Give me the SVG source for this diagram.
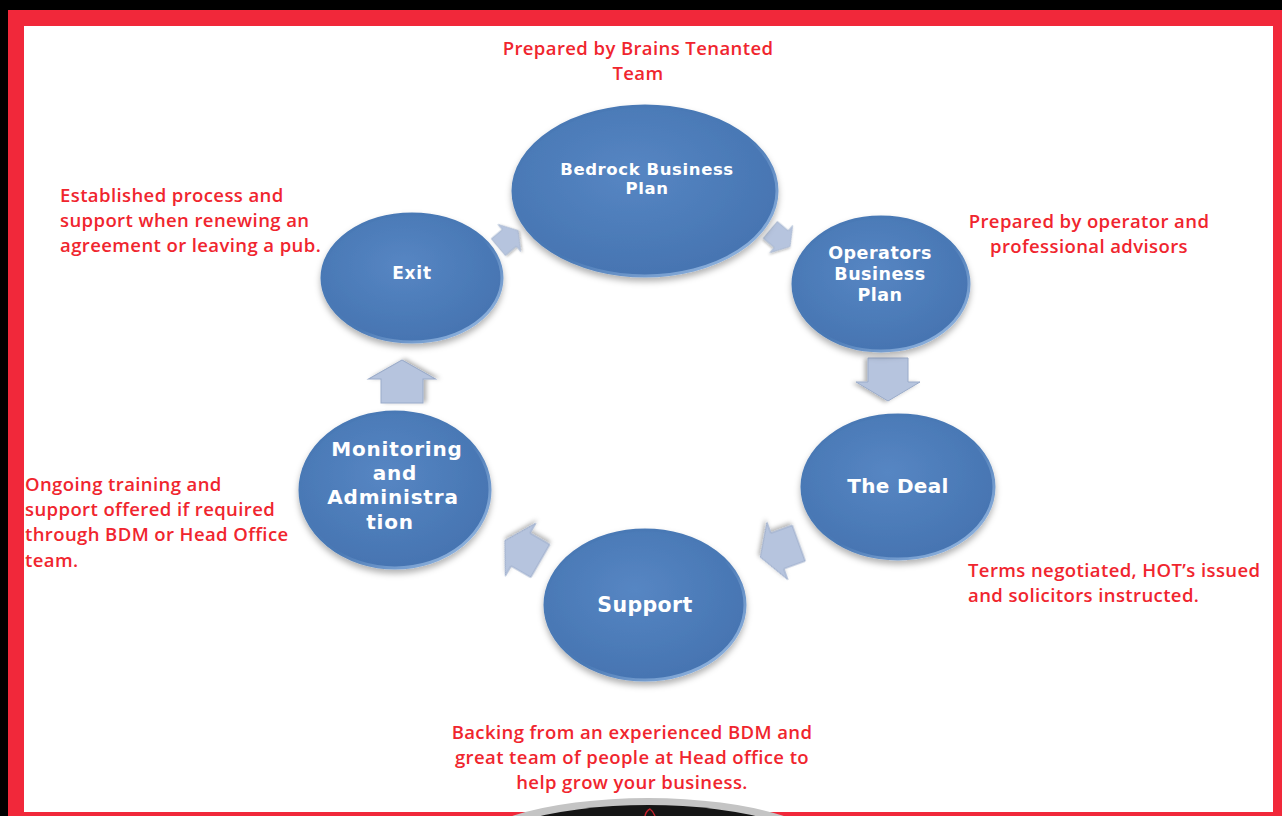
<svg xmlns="http://www.w3.org/2000/svg" width="1282" height="816" viewBox="0 0 1282 816">
<defs>
<style>
.note{font-family:"Open Sans","Liberation Sans",sans-serif;font-weight:600;font-size:18.5px;letter-spacing:0.4px;fill:#f0252e}
.lbl{font-family:"DejaVu Sans","Liberation Sans",sans-serif;font-weight:bold;fill:#ffffff;text-anchor:middle}
.disc{fill:url(#discFill);stroke:url(#rim);stroke-width:3;filter:url(#sh)}
.arr{fill:#b6c4de;stroke:#9aabc9;stroke-width:1;filter:url(#ash)}
</style>
<radialGradient id="discFill" cx="0.45" cy="0.4" r="0.65">
<stop offset="0" stop-color="#5686c3"/>
<stop offset="1" stop-color="#4573b0"/>
</radialGradient>
<linearGradient id="rim" x1="0" y1="0" x2="1" y2="1">
<stop offset="0" stop-color="#4a79b5"/>
<stop offset="0.55" stop-color="#4a79b5"/>
<stop offset="1" stop-color="#a6c6ec"/>
</linearGradient>
<filter id="sh" x="-20%" y="-20%" width="140%" height="150%">
<feDropShadow dx="0" dy="4" stdDeviation="3" flood-color="#000" flood-opacity="0.3"/>
</filter>
<filter id="ash" x="-30%" y="-30%" width="160%" height="160%">
<feDropShadow dx="1" dy="3" stdDeviation="2" flood-color="#000" flood-opacity="0.3"/>
</filter>
<path id="blk" d="M-21,-20 H3 V-32 L22,0 L3,32 V20 H-21 Z"/>
</defs>

<rect x="0" y="0" width="1282" height="816" fill="#000"/>
<rect x="8" y="10" width="1274" height="806" fill="#f1283a"/>
<rect x="24" y="26" width="1249" height="786" fill="#ffffff"/>

<g id="connectors">
<use href="#blk" class="arr" transform="translate(508,239) rotate(-40) scale(0.6,0.55)"/>
<use href="#blk" class="arr" transform="translate(780,238) rotate(40) scale(0.6,0.55)"/>
<use href="#blk" class="arr" transform="translate(888,379) rotate(90)"/>
<use href="#blk" class="arr" transform="translate(780,550) rotate(160) scale(0.95)"/>
<use href="#blk" class="arr" transform="translate(523,551) rotate(-150) scale(0.95)"/>
<use href="#blk" class="arr" transform="translate(402,382) rotate(-90) scale(1,1.05)"/>
</g>

<g id="bedrock">
<ellipse class="disc" cx="645" cy="191" rx="132" ry="85"/>
<text class="lbl" font-size="16.5" letter-spacing="0.6" x="647" y="175">Bedrock Business</text>
<text class="lbl" font-size="16.5" letter-spacing="0.6" x="647" y="194">Plan</text>
</g>
<g id="operators">
<ellipse class="disc" cx="881" cy="284" rx="88" ry="67"/>
<text class="lbl" font-size="17.5" letter-spacing="0.5" x="880" y="259">Operators</text>
<text class="lbl" font-size="17.5" letter-spacing="0.5" x="880" y="280">Business</text>
<text class="lbl" font-size="17.5" letter-spacing="0.5" x="880" y="301">Plan</text>
</g>
<g id="deal">
<ellipse class="disc" cx="898" cy="487" rx="96" ry="72"/>
<text class="lbl" font-size="20" letter-spacing="0.3" x="898" y="493">The Deal</text>
</g>
<g id="support">
<ellipse class="disc" cx="645" cy="605" rx="100" ry="75"/>
<text class="lbl" font-size="20.5" letter-spacing="0.4" x="645" y="612">Support</text>
</g>
<g id="monitoring">
<ellipse class="disc" cx="395" cy="490" rx="95" ry="78"/>
<text class="lbl" font-size="20" letter-spacing="0.8" x="397" y="456">Monitoring</text>
<text class="lbl" font-size="20" letter-spacing="0.8" x="395" y="480">and</text>
<text class="lbl" font-size="20" letter-spacing="0.8" x="393" y="504">Administra</text>
<text class="lbl" font-size="20" letter-spacing="0.8" x="390" y="529">tion</text>
</g>
<g id="exit">
<ellipse class="disc" cx="412" cy="278" rx="90" ry="64"/>
<text class="lbl" font-size="17" letter-spacing="0.8" x="412" y="279">Exit</text>
</g>

<g id="notes">
<text class="note" x="638" y="55" text-anchor="middle">Prepared by Brains Tenanted</text>
<text class="note" x="638" y="80" text-anchor="middle">Team</text>
<text class="note" x="60" y="202">Established process and</text>
<text class="note" x="60" y="227">support when renewing an</text>
<text class="note" x="60" y="252">agreement or leaving a pub.</text>
<text class="note" x="1089" y="228" text-anchor="middle">Prepared by operator and</text>
<text class="note" x="1089" y="253" text-anchor="middle">professional advisors</text>
<text class="note" x="25" y="491">Ongoing training and</text>
<text class="note" x="25" y="516">support offered if required</text>
<text class="note" x="25" y="541">through BDM or Head Office</text>
<text class="note" x="25" y="567">team.</text>
<text class="note" x="968" y="577">Terms negotiated, HOT’s issued</text>
<text class="note" x="968" y="602">and solicitors instructed.</text>
<text class="note" x="632" y="739" text-anchor="middle">Backing from an experienced BDM and</text>
<text class="note" x="632" y="764" text-anchor="middle">great team of people at Head office to</text>
<text class="note" x="632" y="789" text-anchor="middle">help grow your business.</text>
</g>

<g id="logo">
<ellipse cx="648" cy="858" rx="190" ry="60" fill="#c4c4c4"/>
<ellipse cx="648" cy="860" rx="179" ry="55" fill="#151515"/>
<path d="M645,816 Q646,811 650,809 Q653,811 655,816" fill="none" stroke="#c0202a" stroke-width="1.5"/>
</g>
</svg>
